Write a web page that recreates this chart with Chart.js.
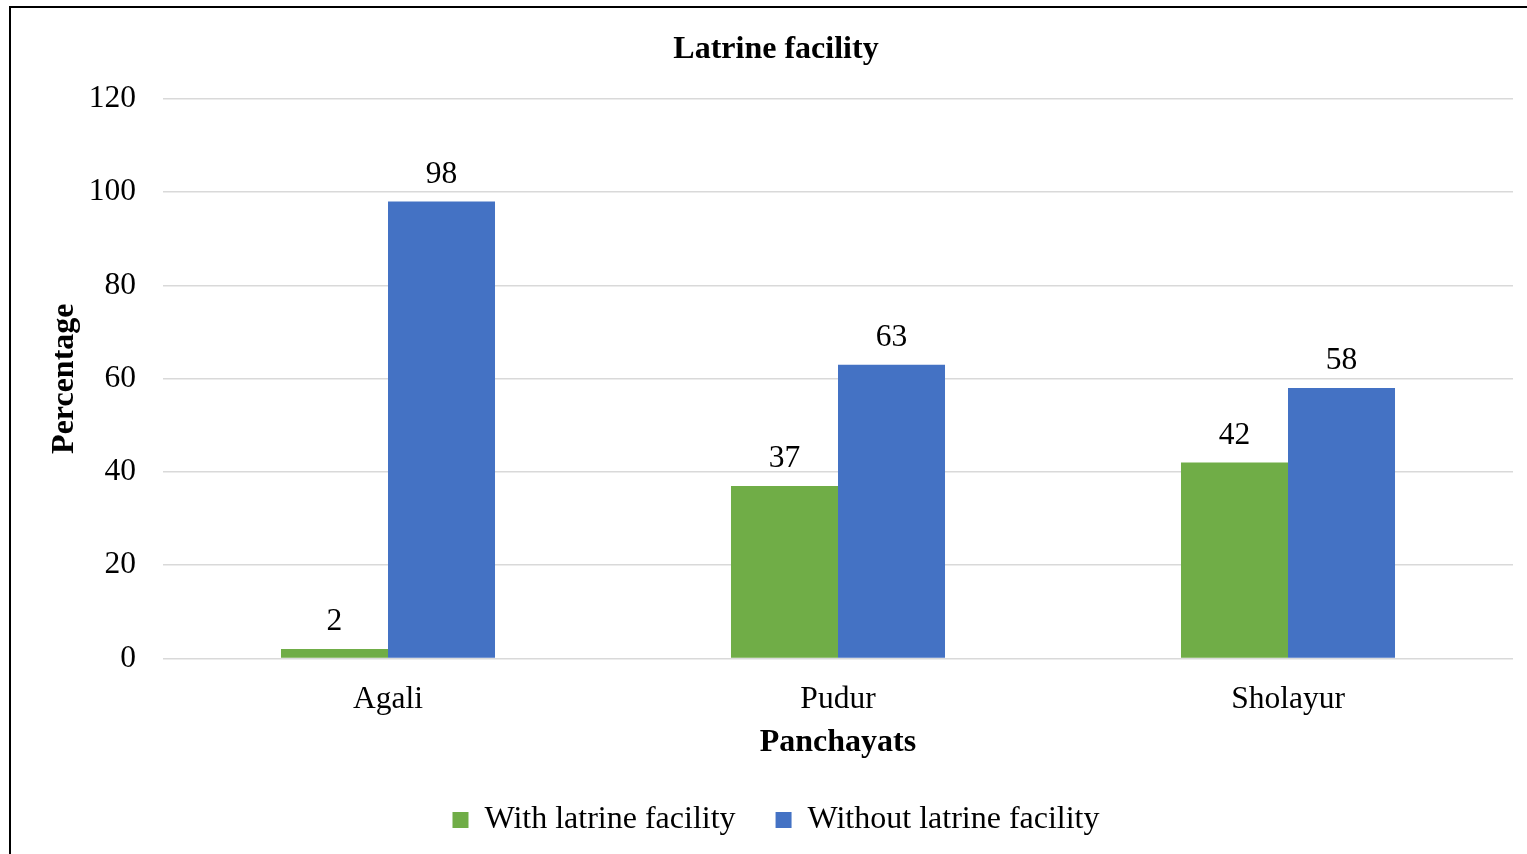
<!DOCTYPE html>
<html>
<head>
<meta charset="utf-8">
<script src="https://cdn.jsdelivr.net/npm/chart.js@4.4.0/dist/chart.umd.min.js"></script>
<style>
  html, body { margin: 0; padding: 0; background: #fff; }
  #wrap { width: 1527px; height: 854px; position: relative; }
</style>
</head>
<body>
<div id="wrap"><canvas id="c" width="1527" height="854"></canvas></div>
<script>
const categories = ['Agali', 'Pudur', 'Sholayur'];
const withLatrine = [2, 37, 42];
const withoutLatrine = [98, 63, 58];
const seriesNames = ['With latrine facility', 'Without latrine facility'];
const chartTitle = 'Latrine facility';
const xTitle = 'Panchayats';
const yTitle = 'Percentage';

const FONT = '"Liberation Serif", "Times New Roman", serif';

const frame = {
  id: 'frame',
  beforeDraw(chart) {
    const ctx = chart.ctx;
    ctx.save();
    ctx.fillStyle = '#fff';
    ctx.fillRect(0, 0, chart.width, chart.height);
    ctx.strokeStyle = '#000';
    ctx.lineWidth = 2;
    ctx.strokeRect(10, 7, chart.width + 20, chart.height + 20);
    ctx.restore();
  }
};

const valueLabels = {
  id: 'valueLabels',
  afterDatasetsDraw(chart) {
    const ctx = chart.ctx;
    ctx.save();
    ctx.font = '31.5px ' + FONT;
    ctx.fillStyle = '#000';
    ctx.textAlign = 'center';
    ctx.textBaseline = 'alphabetic';
    chart.data.datasets.forEach((ds, i) => {
      const meta = chart.getDatasetMeta(i);
      meta.data.forEach((bar, j) => {
        ctx.fillText(String(ds.data[j]), bar.x, bar.y - 19);
      });
    });
    ctx.restore();
  }
};

new Chart(document.getElementById('c'), {
  type: 'bar',
  data: {
    labels: categories,
    datasets: [
      { label: seriesNames[0], data: withLatrine, backgroundColor: '#70ad47', borderWidth: 0 },
      { label: seriesNames[1], data: withoutLatrine, backgroundColor: '#4472c4', borderWidth: 0 }
    ]
  },
  options: {
    responsive: false,
    animation: false,
    devicePixelRatio: 1,
    layout: { padding: { left: 39, right: 14, top: 10, bottom: 8 } },
    datasets: { bar: { categoryPercentage: 0.4756, barPercentage: 1.0 } },
    plugins: {
      title: {
        display: true,
        text: chartTitle,
        color: '#000',
        font: { family: FONT, size: 32, weight: 'bold' },
        padding: { top: 20.8, bottom: 29.8 }
      },
      legend: {
        position: 'bottom',
        labels: {
          color: '#000',
          font: { family: FONT, size: 32 },
          boxWidth: 16,
          boxHeight: 16,
          padding: 40
        }
      },
      tooltip: { enabled: false }
    },
    scales: {
      x: {
        grid: { display: false, drawTicks: false },
        border: { display: false },
        ticks: { color: '#000', font: { family: FONT, size: 31.5 }, padding: 22.5 },
        title: {
          display: true, text: xTitle, color: '#000',
          font: { family: FONT, size: 32, weight: 'bold' },
          padding: { top: 7, bottom: 2 }
        },
        afterFit(scale) { scale.height = 105.6; }
      },
      y: {
        min: 0, max: 120,
        grid: { color: '#d9d9d9', lineWidth: 1.5, drawTicks: false },
        border: { display: false },
        ticks: { stepSize: 20, color: '#000', font: { family: FONT, size: 31.5 }, padding: 27 },
        title: {
          display: true, text: yTitle, color: '#000',
          font: { family: FONT, size: 32, weight: 'bold' },
          padding: { top: 7, bottom: 0 }
        },
        afterFit(scale) { scale.width = 124; }
      }
    }
  },
  plugins: [frame, valueLabels]
});
</script>
</body>
</html>
